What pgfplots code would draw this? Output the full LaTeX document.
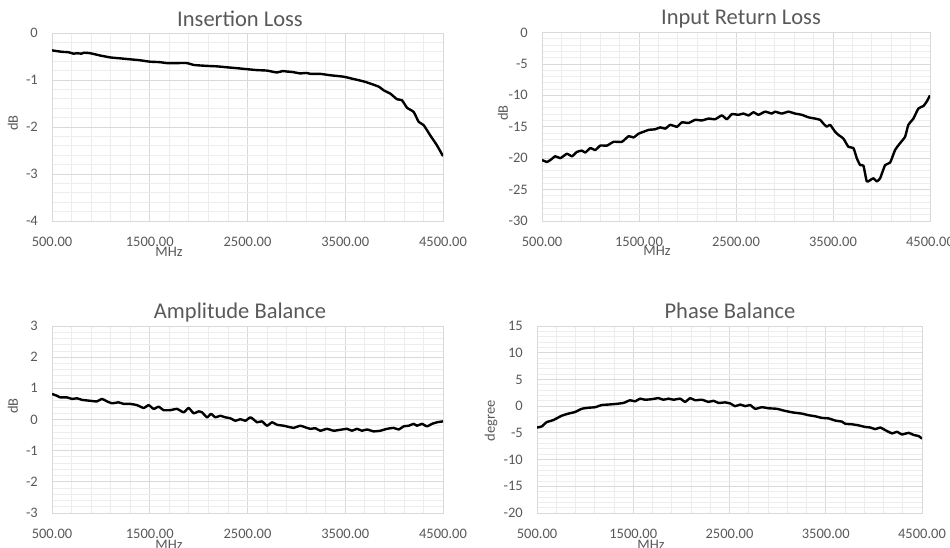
\documentclass[border=0pt]{standalone}
\usepackage{fontspec}
\setmainfont{Carlito}
\usepackage{pgfplots}
\pgfplotsset{compat=1.18}
\definecolor{txt}{HTML}{595959}
\definecolor{gmaj}{HTML}{D9D9D9}
\definecolor{gmin}{HTML}{EDEDED}
\pgfplotsset{
  panel/.style={
    scale only axis, anchor=south west,
    xmin=500, xmax=4500,
    xtick={500,1500,2500,3500,4500},
    minor xtick={700,900,...,4300},
    minor y tick num=4,
    grid=both,
    major grid style={draw=gmaj, line width=0.8pt},
    minor grid style={draw=gmin, line width=0.8pt},
    axis line style={draw=gmaj, line width=0.8pt},
    major tick length=0pt, minor tick length=0pt,
    tick style={draw=none},
    /pgf/number format/assume math mode=true,
    xticklabel style={font=\fontsize{14.5}{16}\selectfont, text=txt, inner sep=0pt, anchor=north, yshift=-16pt,
      /pgf/number format/.cd, fixed, fixed zerofill, precision=2, 1000 sep={}},
    yticklabel style={font=\fontsize{14.5}{16}\selectfont, text=txt, inner sep=0pt, anchor=east, xshift=-14pt},
    clip=true,
  },
  curve/.style={black, line width=2.4pt, line join=round, no marks, smooth, tension=0.3},
}
\begin{document}
\begin{tikzpicture}
\useasboundingbox (0pt,0pt) rectangle (950pt,548pt);
% Panel 1
\begin{axis}[panel, at={(52pt,327pt)}, width=391pt, height=188pt, ymin=-4, ymax=0, ytick={-4,-3,...,0}]
\addplot[curve] coordinates {
(500,-0.37)(600,-0.40)(670,-0.41)(720,-0.44)(755,-0.43)(800,-0.44)(825,-0.42)(890,-0.43)(995,-0.48)(1097,-0.52)(1200,-0.54)(1300,-0.56)(1400,-0.58)(1500,-0.61)(1600,-0.62)(1676,-0.64)(1780,-0.64)(1881,-0.64)(1950,-0.68)(2085,-0.70)(2190,-0.71)(2290,-0.73)(2400,-0.75)(2495,-0.77)(2600,-0.79)(2700,-0.80)(2800,-0.84)(2860,-0.81)(2904,-0.82)(2960,-0.83)(3040,-0.86)(3100,-0.85)(3150,-0.87)(3245,-0.87)(3350,-0.90)(3484,-0.93)(3586,-0.98)(3688,-1.03)(3790,-1.10)(3850,-1.15)(3893,-1.22)(3961,-1.29)(4030,-1.41)(4080,-1.43)(4132,-1.59)(4200,-1.68)(4251,-1.89)(4302,-1.96)(4370,-2.18)(4438,-2.39)(4500,-2.62)};
\end{axis}
% Panel 2
\begin{axis}[panel, at={(542pt,327pt)}, width=388pt, height=188.5pt, ymin=-30, ymax=0, ytick={-30,-25,...,0}]
\addplot[curve] coordinates {
(500,-20.3)(551,-20.6)(586,-20.3)(637,-19.7)(689,-20.0)(757,-19.3)(809,-19.7)(860,-19.0)(912,-18.8)(946,-19.1)(998,-18.4)(1049,-18.7)(1101,-18.0)(1170,-18.0)(1238,-17.4)(1324,-17.4)(1393,-16.5)(1444,-16.7)(1496,-16.1)(1547,-15.8)(1599,-15.5)(1668,-15.4)(1719,-15.1)(1771,-15.3)(1822,-14.7)(1891,-15.0)(1942,-14.3)(2011,-14.4)(2079,-13.9)(2148,-14.0)(2217,-13.7)(2285,-13.8)(2354,-13.2)(2406,-13.8)(2457,-13.0)(2526,-13.1)(2577,-12.9)(2629,-13.2)(2680,-12.7)(2732,-13.1)(2800,-12.6)(2869,-12.9)(2903,-12.6)(2972,-12.9)(3040,-12.6)(3109,-12.9)(3178,-13.1)(3247,-13.5)(3315,-13.7)(3367,-13.9)(3401,-14.5)(3436,-15.0)(3470,-14.7)(3522,-15.8)(3556,-16.3)(3608,-16.9)(3659,-18.2)(3711,-18.4)(3745,-20.0)(3780,-21.1)(3814,-21.2)(3848,-23.7)(3883,-23.5)(3917,-23.2)(3951,-23.7)(3986,-23.2)(4037,-21.1)(4089,-20.7)(4140,-18.7)(4192,-17.6)(4243,-16.6)(4277,-14.7)(4329,-13.7)(4380,-12.1)(4432,-11.7)(4466,-11.0)(4500,-10.0)};
\end{axis}
% Panel 3
\begin{axis}[panel, at={(52pt,35pt)}, width=391pt, height=187pt, ymin=-3, ymax=3, ytick={-3,-2,...,3}]
\addplot[curve] coordinates {
(500,0.82)(551,0.76)(585,0.71)(653,0.71)(705,0.66)(756,0.68)(807,0.63)(892,0.60)(960,0.58)(1012,0.66)(1063,0.58)(1114,0.52)(1182,0.55)(1233,0.50)(1301,0.50)(1370,0.46)(1438,0.37)(1489,0.46)(1540,0.34)(1591,0.41)(1642,0.30)(1711,0.30)(1779,0.34)(1847,0.23)(1898,0.37)(1949,0.20)(2000,0.26)(2035,0.23)(2086,0.07)(2127,0.18)(2171,0.07)(2222,0.12)(2273,0.07)(2324,0.04)(2376,-0.04)(2427,0.01)(2478,-0.04)(2529,0.07)(2563,0.00)(2597,-0.09)(2648,-0.06)(2700,-0.20)(2751,-0.09)(2802,-0.17)(2870,-0.20)(2938,-0.25)(2972,-0.27)(3040,-0.20)(3091,-0.25)(3142,-0.30)(3194,-0.28)(3245,-0.36)(3313,-0.30)(3381,-0.36)(3450,-0.33)(3518,-0.30)(3569,-0.36)(3620,-0.30)(3671,-0.36)(3722,-0.32)(3790,-0.38)(3859,-0.36)(3927,-0.30)(3995,-0.27)(4047,-0.32)(4098,-0.22)(4149,-0.20)(4200,-0.14)(4234,-0.20)(4285,-0.14)(4336,-0.22)(4387,-0.14)(4438,-0.09)(4500,-0.06)};
\end{axis}
% Panel 4
\begin{axis}[panel, at={(537pt,35pt)}, width=385pt, height=187pt, ymin=-20, ymax=15, ytick={-20,-15,...,15}]
\addplot[curve] coordinates {
(500,-4.0)(549,-3.8)(600,-3.0)(670,-2.6)(756,-1.8)(826,-1.4)(895,-1.1)(964,-0.5)(1034,-0.3)(1103,-0.2)(1172,0.2)(1242,0.3)(1311,0.4)(1398,0.6)(1467,1.1)(1519,0.9)(1571,1.4)(1623,1.2)(1692,1.3)(1762,1.5)(1814,1.2)(1866,1.4)(1918,1.2)(1987,1.4)(2039,0.8)(2091,1.5)(2143,1.1)(2212,1.2)(2282,0.8)(2334,1.0)(2386,0.6)(2455,0.7)(2507,0.5)(2559,0.0)(2611,0.3)(2663,0.0)(2715,0.2)(2767,-0.5)(2836,-0.2)(2906,-0.4)(2992,-0.5)(3079,-0.9)(3165,-1.2)(3252,-1.4)(3322,-1.7)(3391,-1.9)(3460,-2.2)(3530,-2.3)(3599,-2.7)(3668,-2.9)(3703,-3.3)(3772,-3.4)(3842,-3.6)(3911,-3.9)(3963,-4.0)(4015,-4.3)(4067,-4.0)(4119,-4.5)(4189,-5.1)(4240,-4.8)(4292,-5.3)(4362,-5.0)(4414,-5.4)(4466,-5.6)(4500,-6.1)};
\end{axis}
% Titles and labels
\begin{scope}[every node/.style={text=txt, inner sep=0pt}]
\node[anchor=base, font=\fontsize{22.5}{24}\selectfont] at (240pt,521.5pt) {Insertion Loss};
\node[anchor=base, font=\fontsize{22.5}{24}\selectfont] at (741pt,523pt) {Input Return Loss};
\node[anchor=base, font=\fontsize{22.5}{24}\selectfont] at (240pt,229pt) {Amplitude Balance};
\node[anchor=base, font=\fontsize{22.5}{24}\selectfont] at (730pt,229pt) {Phase Balance};
\node[anchor=base, font=\fontsize{14.5}{16}\selectfont] at (169pt,291pt) {MHz};
\node[anchor=base, font=\fontsize{14.5}{16}\selectfont] at (657pt,292pt) {MHz};
\node[anchor=base, font=\fontsize{14.5}{16}\selectfont] at (169pt,-2pt) {MHz};
\node[anchor=base, font=\fontsize{14.5}{16}\selectfont] at (651pt,-2pt) {MHz};
\node[rotate=90, font=\fontsize{14.5}{16}\selectfont] at (13pt,425pt) {dB};
\node[rotate=90, font=\fontsize{14.5}{16}\selectfont] at (503pt,435pt) {dB};
\node[rotate=90, font=\fontsize{14.5}{16}\selectfont] at (13pt,142pt) {dB};
\node[rotate=90, font=\fontsize{14.5}{16}\selectfont] at (491pt,127pt) {degree};
\end{scope}
\end{tikzpicture}
\end{document}
